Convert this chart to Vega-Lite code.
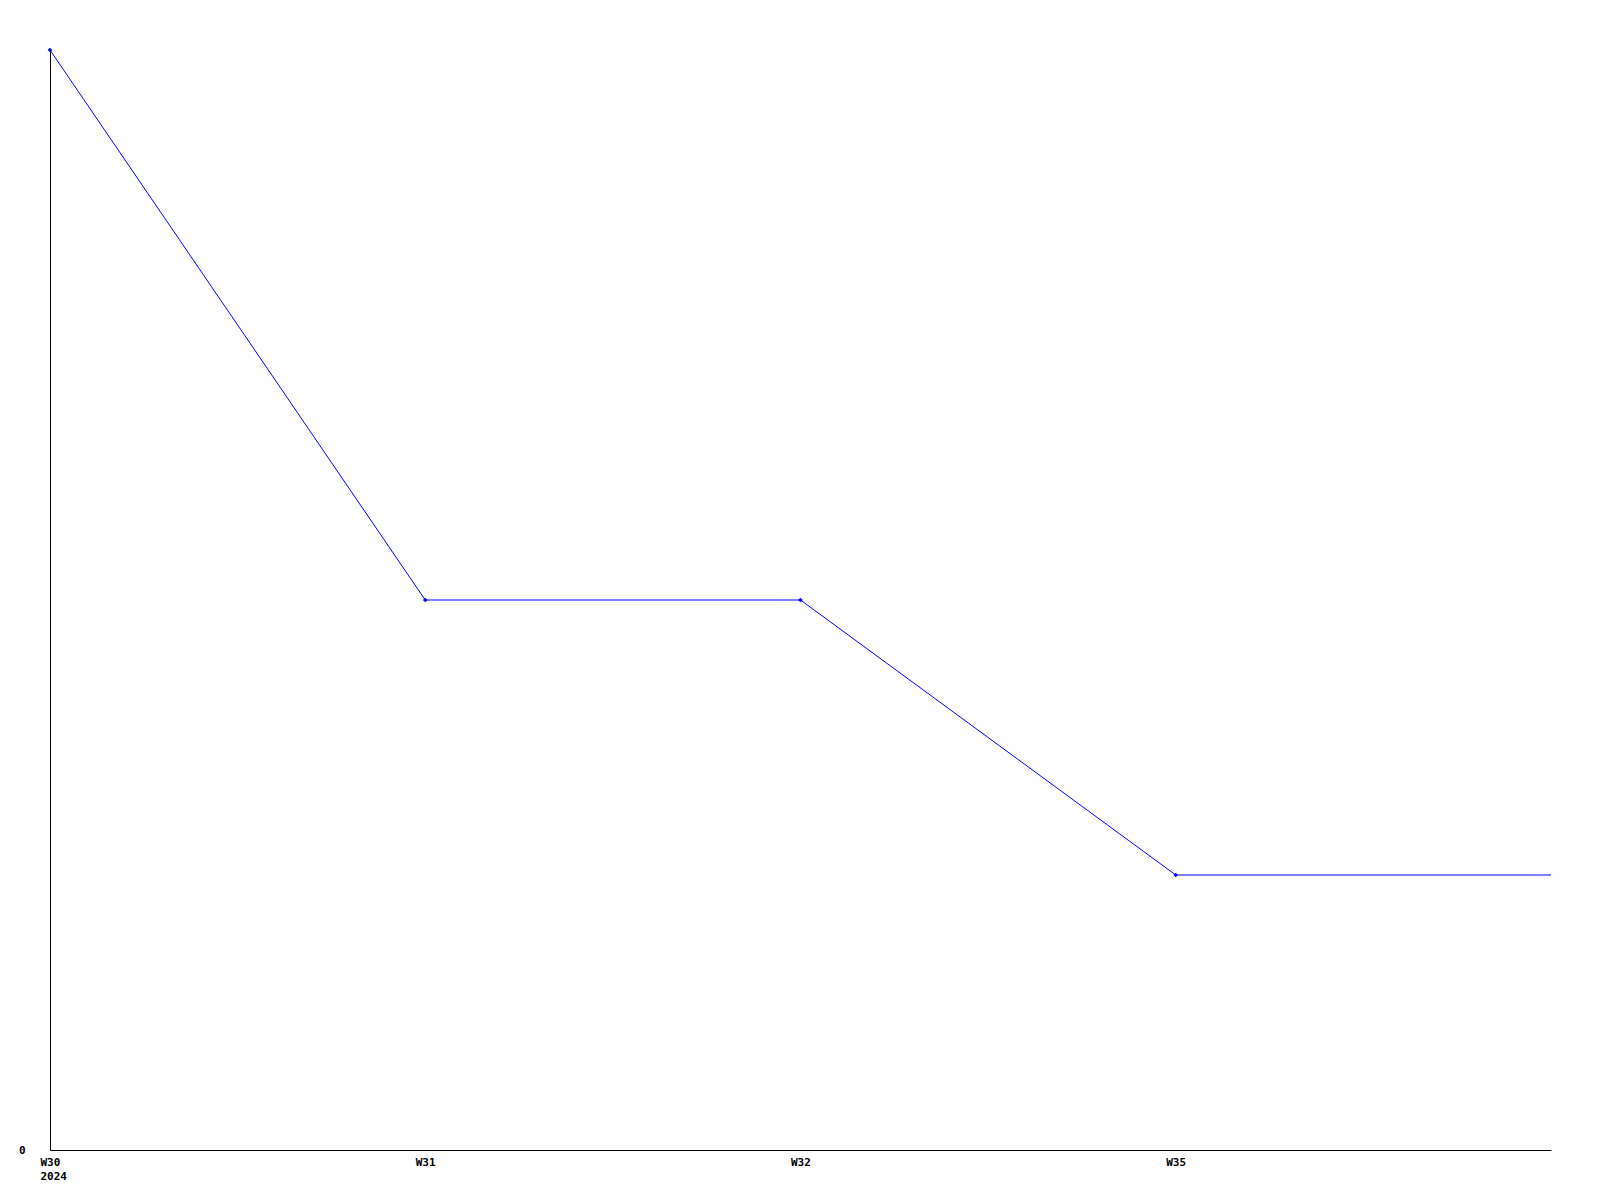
{
  "$schema": "https://vega.github.io/schema/vega-lite/v6.json",
  "width": 1501,
  "height": 1100,
  "autosize": {"type": "none"},
  "padding": {"left": 50, "top": 50, "right": 49, "bottom": 50},
  "background": "white",
  "config": {"view": {"stroke": null}},
  "data": {
    "values": [
      {"week": "W30", "value": 4, "marker": true},
      {"week": "W31", "value": 2, "marker": true},
      {"week": "W32", "value": 2, "marker": true},
      {"week": "W35", "value": 1, "marker": true},
      {"week": "end", "value": 1, "marker": false}
    ]
  },
  "encoding": {
    "x": {
      "field": "week",
      "type": "ordinal",
      "sort": null,
      "scale": {"type": "point", "padding": 0},
      "axis": {
        "title": null,
        "domainColor": "black",
        "domainWidth": 1,
        "ticks": false,
        "labelAngle": 0,
        "labelAlign": "left",
        "labelOffset": -10,
        "labelBaseline": "top",
        "labelPadding": 6,
        "labelFont": "DejaVu Sans Mono",
        "labelFontWeight": "bold",
        "labelFontSize": 11,
        "labelColor": "black",
        "labelLineHeight": 14,
        "labelOverlap": false,
        "labelExpr": "datum.value == 'W30' ? ['W30', '2024'] : (datum.value == 'end' ? '' : datum.value)"
      }
    },
    "y": {
      "field": "value",
      "type": "quantitative",
      "scale": {"domain": [0, 4], "nice": false, "zero": true},
      "axis": {
        "title": null,
        "values": [0],
        "grid": false,
        "ticks": false,
        "domainColor": "black",
        "domainWidth": 1,
        "labelPadding": 25,
        "labelFont": "DejaVu Sans Mono",
        "labelFontWeight": "bold",
        "labelFontSize": 11,
        "labelColor": "black"
      }
    }
  },
  "layer": [
    {
      "mark": {"type": "line", "color": "#0000ff", "strokeWidth": 1}
    },
    {
      "transform": [{"filter": "datum.marker"}],
      "mark": {"type": "point", "shape": "diamond", "filled": true, "color": "#0000ff", "size": 22, "opacity": 1}
    }
  ]
}
